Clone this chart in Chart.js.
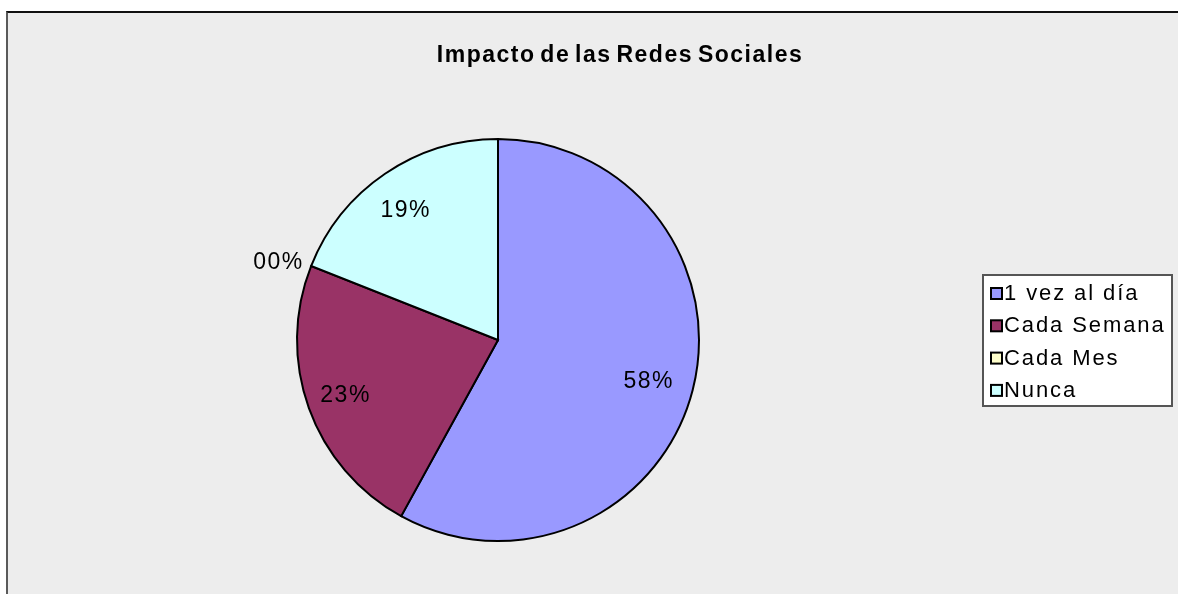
<!DOCTYPE html>
<html>
<head>
<meta charset="utf-8">
<script src="https://cdn.jsdelivr.net/npm/chart.js@4"></script>
<style>
  body { margin: 0; background: #fff; }
  #box {
    position: absolute; left: 6px; top: 11px;
    width: 1172px; height: 583px;
    background: #ededed;
    border-left: 2px solid #5a5a5a;
    border-top: 2px solid #111;
  }
</style>
</head>
<body>
<div id="box"><canvas id="pie" width="1170" height="581"></canvas></div>
<script>
// ===== Data =====
const title = "Impacto de las Redes Sociales";
const categories = ["1 vez al día", "Cada Semana", "Cada Mes", "Nunca"];
const values = [58, 23, 0, 19];
const colors = ["#9999ff", "#993366", "#ffffcc", "#ccffff"];

const FONT = "'Liberation Sans', Arial, sans-serif";

// ===== Text drawing (title, slice labels, legend) =====
const textPlugin = {
  id: "texts",
  afterDraw(chart) {
    const ctx = chart.ctx;
    ctx.save();
    ctx.fillStyle = "#000";

    // title
    ctx.font = "bold 23px " + FONT;
    ctx.letterSpacing = "1.5px";
    ctx.wordSpacing = "-3px";
    ctx.textAlign = "center";
    ctx.textBaseline = "middle";
    ctx.fillText(title, 612, 43);
    ctx.wordSpacing = "0px";

    // slice labels
    ctx.font = "23px " + FONT;
    ctx.letterSpacing = "1.5px";
    const meta = chart.getDatasetMeta(0);
    meta.data.forEach((arc, i) => {
      const mid = (arc.startAngle + arc.endAngle) / 2;
      const txt = String(values[i]).padStart(2, "0") + "%";
      if (values[i] === 0) {
        const r = arc.outerRadius + 8;
        ctx.textAlign = "right";
        ctx.fillText(txt, arc.x + Math.cos(mid) * r, arc.y + Math.sin(mid) * r);
      } else {
        const r = arc.outerRadius * 0.79;
        ctx.textAlign = "center";
        ctx.fillText(txt, arc.x + Math.cos(mid) * r - 3, arc.y + Math.sin(mid) * r + 2);
      }
    });

    // legend
    const lx = 975, ly = 262, lw = 189, lh = 131;
    ctx.fillStyle = "#fff";
    ctx.fillRect(lx, ly, lw, lh);
    ctx.strokeStyle = "#555";
    ctx.lineWidth = 2;
    ctx.strokeRect(lx, ly, lw, lh);
    ctx.font = "22px " + FONT;
    ctx.letterSpacing = "1.9px";
    ctx.textAlign = "left";
    categories.forEach((c, i) => {
      const cy = ly + 18 + i * 32.3;
      ctx.fillStyle = colors[i];
      ctx.fillRect(983, cy - 5, 11, 11);
      ctx.strokeStyle = "#000";
      ctx.lineWidth = 2;
      ctx.strokeRect(983, cy - 5, 11, 11);
      ctx.fillStyle = "#000";
      ctx.fillText(c, 996, cy + 1);
    });
    ctx.restore();
  }
};

// ===== Chart =====
new Chart(document.getElementById("pie"), {
  type: "pie",
  data: {
    labels: categories,
    datasets: [{
      data: values,
      backgroundColor: colors,
      borderColor: "#000",
      borderWidth: 2,
      borderJoinStyle: "miter"
    }]
  },
  options: {
    responsive: false,
    animation: false,
    events: [],
    layout: { padding: { left: 288, right: 478, top: 125, bottom: 52 } },
    plugins: {
      legend: { display: false },
      tooltip: { enabled: false },
      title: { display: false }
    }
  },
  plugins: [textPlugin]
});
</script>
</body>
</html>
